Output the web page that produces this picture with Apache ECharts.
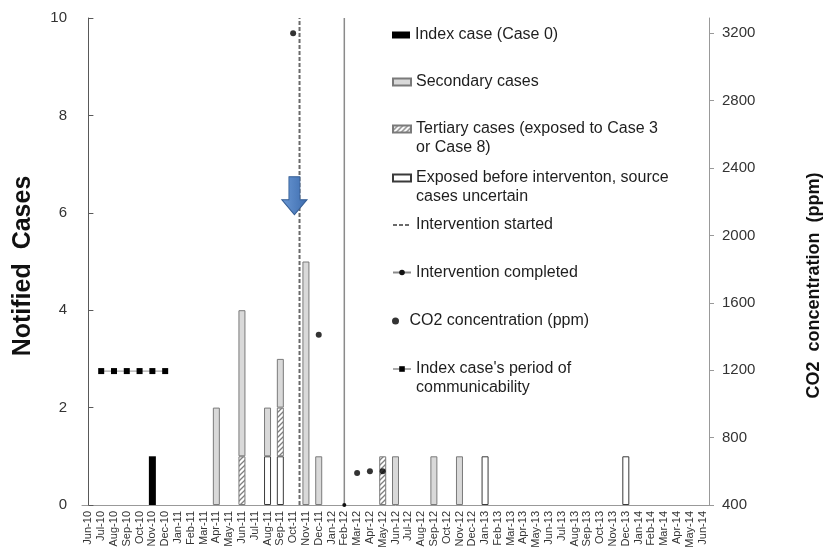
<!DOCTYPE html>
<html><head><meta charset="utf-8">
<script src="https://cdn.jsdelivr.net/npm/echarts@6/dist/echarts.min.js"></script>
<style>html,body{margin:0;padding:0;background:#fff}#c{width:829px;height:550px}</style>
</head><body><div id="c"></div>
<script>
// ---- data ----
const months = ['Jun-10','Jul-10','Aug-10','Sep-10','Oct-10','Nov-10','Dec-10',
  'Jan-11','Feb-11','Mar-11','Apr-11','May-11','Jun-11','Jul-11','Aug-11','Sep-11','Oct-11','Nov-11','Dec-11',
  'Jan-12','Feb-12','Mar-12','Apr-12','May-12','Jun-12','Jul-12','Aug-12','Sep-12','Oct-12','Nov-12','Dec-12',
  'Jan-13','Feb-13','Mar-13','Apr-13','May-13','Jun-13','Jul-13','Aug-13','Sep-13','Oct-13','Nov-13','Dec-13',
  'Jan-14','Feb-14','Mar-14','Apr-14','May-14','Jun-14'];
const indexCase = [['Nov-10', 1]];
const secondaryCases = [['Apr-11', 2], ['Jun-11', 3], ['Aug-11', 1], ['Sep-11', 1], ['Nov-11', 5], ['Dec-11', 1], ['Jun-12', 1], ['Sep-12', 1], ['Nov-12', 1]];
const tertiaryCases = [['Jun-11', 1], ['Sep-11', 1], ['May-12', 1]];
const uncertainCases = [['Aug-11', 1], ['Sep-11', 1], ['Jan-13', 1], ['Dec-13', 1]];
const co2 = [['Oct-11', 3200], ['Dec-11', 1410], ['Mar-12', 590], ['Apr-12', 600], ['May-12', 600]];
const communicability = [['Jul-10', 2.75], ['Aug-10', 2.75], ['Sep-10', 2.75], ['Oct-10', 2.75], ['Nov-10', 2.75], ['Dec-10', 2.75]];
const interventionStart = 16.5;   // month position (between Oct-11 and Nov-11)
const interventionEnd = 20;       // month position (Feb-12)
const arrowPos = [16.1, 6.35];    // arrow annotation (month position, cases)
const leftTicks = [0, 2, 4, 6, 8, 10];
const rightTicks = [400, 800, 1200, 1600, 2000, 2400, 2800, 3200];

// ---- helpers ----
const FONT = 'Liberation Sans, Arial, sans-serif';
function full(pairs) {
  const m = new Map(pairs);
  return months.map(k => m.has(k) ? m.get(k) : '-');
}
function hatch() {
  const c = document.createElement('canvas'); c.width = 5; c.height = 5;
  const g = c.getContext('2d');
  g.fillStyle = '#fff'; g.fillRect(0, 0, 5, 5);
  g.strokeStyle = '#808080'; g.lineWidth = 1.3;
  g.beginPath();
  g.moveTo(0, 5); g.lineTo(5, 0);
  g.moveTo(-1, 1); g.lineTo(1, -1);
  g.moveTo(4, 6); g.lineTo(6, 4);
  g.stroke();
  return c;
}
const N_INDEX = 'Index case (Case 0)';
const N_SEC = 'Secondary cases';
const N_TER = 'Tertiary cases (exposed to Case 3\nor Case 8)';
const N_UNC = 'Exposed before interventon, source\ncases uncertain';
const N_START = 'Intervention started';
const N_END = 'Intervention completed';
const N_CO2 = 'CO2 concentration (ppm)';
const N_COMM = "Index case's period of\ncommunicability";

function legend(item, cy, two, icon) {
  const l = {
    data: [item], left: 392, top: two ? cy - 28.5 : cy - 9.5, padding: 0,
    itemWidth: 18, itemHeight: 7, selectedMode: false,
    textStyle: { fontFamily: FONT, fontSize: 16, lineHeight: 19, color: '#1e1e1e' }
  };
  if (icon) l.icon = icon;
  if (two) l.formatter = n => ' \n' + n;
  return l;
}

const chart = echarts.init(document.getElementById('c'), null, { renderer: 'canvas' });
chart.setOption({
  animation: false,
  backgroundColor: '#fff',
  textStyle: { fontFamily: FONT },
  grid: { left: 82, right: 120, top: 18, bottom: 45, containLabel: false, outerBoundsMode: 'none' },
  legend: [
    legend(N_INDEX, 35, false, 'rect'),
    legend(N_SEC, 82, false, 'rect'),
    legend(N_TER, 129, true, 'rect'),
    legend(N_UNC, 178, true, 'rect'),
    legend({ name: N_START, itemStyle: { opacity: 0 } }, 225, false),
    legend(N_END, 272.5, false),
    legend(N_CO2, 321, false),
    legend(N_COMM, 369, true)
  ],
  xAxis: [
    {
      type: 'category', data: months, boundaryGap: true,
      axisLine: { lineStyle: { color: '#999', width: 1 } },
      axisTick: { show: false },
      axisLabel: { rotate: 90, interval: 0, fontSize: 11, color: '#333', margin: 6, fontFamily: FONT }
    },
    { type: 'value', min: -0.5, max: months.length - 0.5, show: false }
  ],
  yAxis: [
    {
      type: 'value', min: 0, max: 10, interval: 2, position: 'left',
      axisLine: { show: true, lineStyle: { color: '#595959' } },
      axisTick: { show: true, inside: true, length: 5, lineStyle: { color: '#595959' }, customValues: leftTicks },
      axisLabel: { fontSize: 15, color: '#333', margin: 15, fontFamily: FONT, customValues: leftTicks },
      splitLine: { show: false },
      name: 'Notified  Cases', nameLocation: 'middle', nameRotate: 90, nameGap: 46,
      nameTextStyle: { fontSize: 25, fontWeight: 'bold', color: '#111', fontFamily: FONT, padding: [0, 9, 0, 0] }
    },
    {
      type: 'value', min: 400, max: 3290, position: 'right',
      axisLine: { show: true, lineStyle: { color: '#999' } },
      axisTick: { show: true, inside: false, length: 5, lineStyle: { color: '#999' }, customValues: rightTicks },
      axisLabel: { fontSize: 15, color: '#333', margin: 13, fontFamily: FONT, customValues: rightTicks, formatter: v => String(v) },
      splitLine: { show: false },
      name: 'CO2  concentration  (ppm)', nameLocation: 'middle', nameRotate: 90, nameGap: 96,
      nameTextStyle: { fontSize: 18, fontWeight: 'bold', color: '#111', fontFamily: FONT, padding: [0, 48, 0, 0] }
    }
  ],
  series: [
    { name: N_INDEX, type: 'bar', stack: 'cases', barWidth: 7, data: full(indexCase),
      itemStyle: { color: '#000' } },
    { name: N_UNC, type: 'bar', stack: 'cases', barWidth: 7, data: full(uncertainCases),
      itemStyle: { color: '#fff', borderColor: '#3a3a3a', borderWidth: 1 } },
    { name: N_TER, type: 'bar', stack: 'cases', barWidth: 7, data: full(tertiaryCases),
      itemStyle: { color: { image: hatch(), repeat: 'repeat' }, borderColor: '#7a7a7a', borderWidth: 1 } },
    { name: N_SEC, type: 'bar', stack: 'cases', barWidth: 7, data: full(secondaryCases),
      itemStyle: { color: '#d9d9d9', borderColor: '#7a7a7a', borderWidth: 1 } },
    { name: N_START, type: 'line', xAxisIndex: 1, yAxisIndex: 0, symbol: 'none',
      data: [[interventionStart, 0], [interventionStart, 10]],
      lineStyle: { color: '#6a6a6a', width: 2, type: [4, 2] }, itemStyle: { color: '#6a6a6a' },
      markPoint: {
        silent: true,
        data: [{ coord: arrowPos }],
        symbol: 'path://M7,0 L18,0 L18,23 L25,23 L12.5,38 L0,23 L7,23 Z',
        symbolSize: [25, 38], symbolKeepAspect: false,
        label: { show: false },
        itemStyle: {
          color: { type: 'linear', x: 0, y: 0, x2: 1, y2: 0, colorStops: [{ offset: 0, color: '#6a98d4' }, { offset: 1, color: '#3d6cae' }] },
          borderColor: '#345d94', borderWidth: 1
        }
      }
    },
    { name: N_END, type: 'line', xAxisIndex: 1, yAxisIndex: 0, symbol: 'circle', symbolSize: 4,
      data: [{ value: [interventionEnd, 0] }, { value: [interventionEnd, 10], symbol: 'none' }],
      lineStyle: { color: '#8a8a8a', width: 1.5 }, itemStyle: { color: '#111' } },
    { name: N_CO2, type: 'scatter', yAxisIndex: 1, symbol: 'circle', symbolSize: 6, data: co2,
      itemStyle: { color: '#000' }, z: 5 },
    { name: N_COMM, type: 'line', yAxisIndex: 0, symbol: 'rect', symbolSize: 6, data: communicability,
      lineStyle: { color: '#aaa', width: 1.2 }, itemStyle: { color: '#000' }, z: 4 }
  ]
});
</script>
</body></html>
